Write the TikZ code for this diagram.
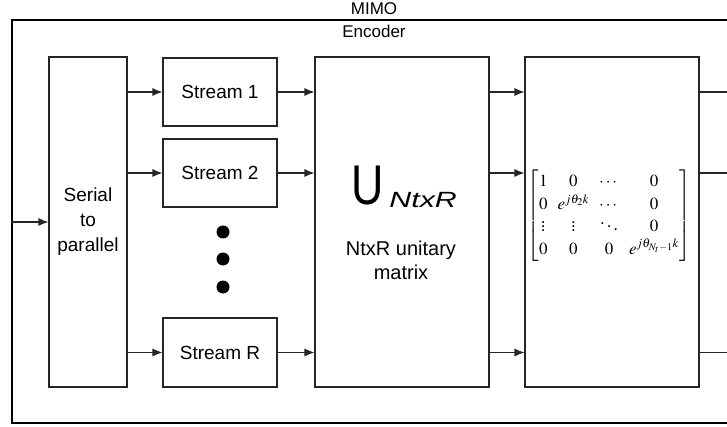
\documentclass[tikz,border=0pt]{standalone}
\usepackage{amsmath}
\usepackage{mathptmx}
\usepackage[no-math]{fontspec}
\setmainfont{Liberation Sans}
\usetikzlibrary{arrows.meta}
\begin{document}
\begin{tikzpicture}[x=1pt,y=-1pt,
  box/.style={draw=black!85,line width=1.1pt,inner sep=0pt,align=center,font=\fontsize{19}{25}\selectfont},
  arr/.style={draw=black!85,line width=1.1pt,-{Latex[length=10pt,width=8pt]}},
  ln/.style={draw=black!85,line width=1.1pt},
  dot/.style={circle,fill=black,inner sep=0pt,minimum size=13pt},
  txt/.style={inner sep=0pt,align=center,font=\fontsize{20}{24}\selectfont}]
\useasboundingbox (0,0) rectangle (727,427);
\begin{scope}
\clip (0,0) rectangle (727,427);
\node[box,draw=black,line width=1.2pt,minimum width=724pt,minimum height=403pt] (outer) at (374,221.5) {};
\node[txt,font=\fontsize{17}{23}\selectfont] (title) at (374,20) {MIMO\\Encoder};
\node[box,minimum width=78pt,minimum height=330pt] (sp) at (88,222) {Serial\\to\\parallel};
\node[box,minimum width=114pt,minimum height=68pt] (s1) at (220,92) {Stream 1};
\node[box,minimum width=114pt,minimum height=68pt] (s2) at (220,173) {Stream 2};
\node[box,minimum width=114pt,minimum height=69pt] (sR) at (220,352.5) {Stream R};
\node[dot] (d1) at (223,232) {};
\node[dot] (d2) at (223,259) {};
\node[dot] (d3) at (223,287) {};
\node[box,minimum width=174pt,minimum height=330pt] (U) at (402,222) {};
\node[txt,anchor=base] (ulabel) at (404,205) {\scalebox{0.8}[1]{\fontsize{56}{56}\selectfont U}\hspace{6pt}\raisebox{-3pt}{\scalebox{1.38}[1]{\fontsize{22}{22}\selectfont\itshape NtxR}}};
\node[txt] (udesc) at (401,260) {NtxR unitary\\matrix};
\node[box,minimum width=174pt,minimum height=330pt] (M) at (612,222) {};
\node[inner sep=0pt,font=\fontsize{17}{20}\selectfont] (mat) at (609,216) {\renewcommand{\arraystretch}{1.12}$\begin{bmatrix} 1 & 0 & \cdots & 0\\ 0 & e^{j\theta_2 k} & \cdots & 0\\ \vdots & \vdots & \ddots & 0\\ 0 & 0 & 0 & e^{j\theta_{N_t-1}k}\end{bmatrix}$};
\draw[arr] (sp.west -| outer.west) -- (sp.west);
\foreach \s in {s1,s2,sR}{
  \draw[arr] (\s.west -| sp.east) -- (\s.west);
  \draw[arr] (\s.east) -- (\s.east -| U.west);
  \draw[arr] (\s.east -| U.east) -- (\s.east -| M.west);
  \draw[ln] (\s.east -| M.east) -- (\s.east -| outer.east);
}
\end{scope}
\end{tikzpicture}
\end{document}
